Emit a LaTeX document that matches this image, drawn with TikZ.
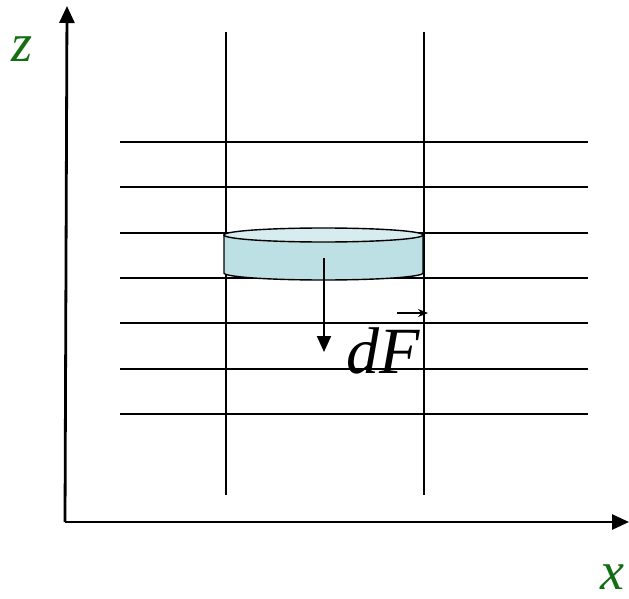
\documentclass[tikz,border=0pt]{standalone}
\usepackage{fontspec}
\setmainfont{Liberation Serif}
\usetikzlibrary{arrows.meta}
\definecolor{axgreen}{RGB}{20,110,20}
\definecolor{cylside}{RGB}{188,224,227}
\definecolor{cyltop}{RGB}{214,236,238}
\tikzset{
  axis/.style={line width=2.8pt,-{Triangle[length=17pt,width=15pt]}},
  grid/.style={line width=1.7pt},
  axlabel/.style={text=axgreen,font=\fontsize{54}{54}\selectfont\itshape,inner sep=0pt},
  force/.style={line width=2pt,-{Triangle[length=16pt,width=14pt]}}
}
\begin{document}
\begin{tikzpicture}[x=1pt,y=-1pt]
\useasboundingbox (0,0) rectangle (629,599);
% grid lines
\foreach \yy [count=\i] in {142,187,233,278,323,369,414}{
  \coordinate (hl\i) at (120,\yy);
  \coordinate (hr\i) at (588,\yy);
  \draw[grid] (hl\i) -- (hr\i);
}
\coordinate (v1t) at (226,32); \coordinate (v1b) at (226,495);
\coordinate (v2t) at (424,32); \coordinate (v2b) at (424,495);
\draw[grid] (v1t) -- (v1b);
\draw[grid] (v2t) -- (v2b);
% cylinder
\draw[line width=1.4pt,fill=cylside] (224,235) -- (224,273) arc[start angle=180,end angle=0,x radius=99.5,y radius=7] -- (423,235) -- cycle;
\draw[line width=1.4pt,fill=cyltop] (323.5,235) ellipse[x radius=99.5,y radius=7];
% axes
\coordinate (O) at (67,522);
\coordinate (zt) at (67,6);
\coordinate (xt) at (629,522);
\draw[axis] (65,522) -- (zt);
\draw[axis] (65,522) -- (xt);
\node[axlabel,anchor=base] (zl) at (22,62) {z};
\node[axlabel,anchor=base] (xl) at (612,589) {x};
% force
\coordinate (fs) at (324,258);
\coordinate (fe) at (324,352);
\draw[force] (fs) -- (fe);
\node[inner sep=0pt,anchor=base west,font=\fontsize{66}{66}\selectfont\itshape] (dF) at (346,373) {dF};
\coordinate (va) at (397,313);
\coordinate (vb) at (428,313);
\draw[line width=1.6pt,-{Stealth[length=10pt,width=8pt]}] (va) -- (vb);
\end{tikzpicture}
\end{document}
